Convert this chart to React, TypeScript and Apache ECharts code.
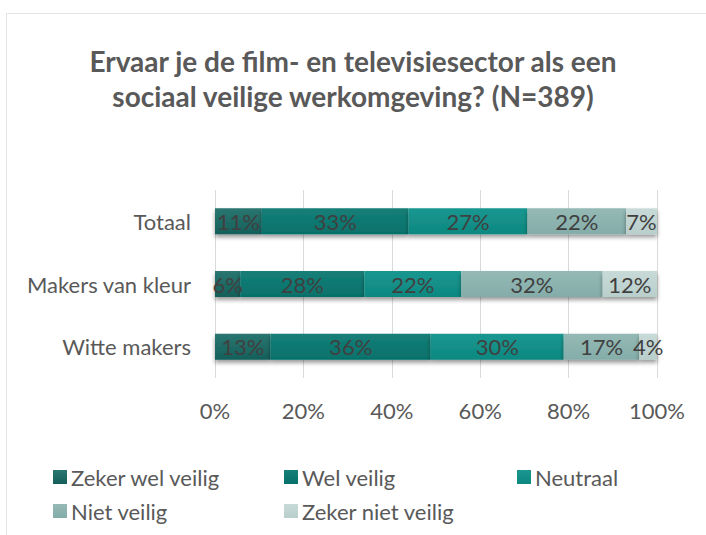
import React, { useEffect, useRef } from "react";
import * as echarts from "echarts";

const categories = ["Totaal", "Makers van kleur", "Witte makers"];
const seriesNames = ["Zeker wel veilig", "Wel veilig", "Neutraal", "Niet veilig", "Zeker niet veilig"];
const zekerWel = [10.6, 5.7, 12.6];
const wel = [33.2, 28.1, 36.2];
const neutraal = [26.9, 21.9, 30.1];
const niet = [22.3, 32.0, 17.1];
const zekerNiet = [7.0, 12.3, 4.0];
const xTicks = [0, 20, 40, 60, 80, 100];
const colors = [
  ["#2a7671", "#155f5a"],
  ["#167f78", "#05716a"],
  ["#1a9790", "#0c8880"],
  ["#95bab6", "#84aca8"],
  ["#c8dad7", "#b9cfcc"],
];

export default function App() {
  const ref = useRef<HTMLDivElement>(null);
  useEffect(() => {
    if (!ref.current) return;
    const chart = echarts.init(ref.current, null, { renderer: "svg" });
    const values = [zekerWel, wel, neutraal, niet, zekerNiet];
    const font = "Lato, 'Noto Sans', sans-serif";
    const grad = (c: string[]) =>
      new echarts.graphic.LinearGradient(0, 0, 0, 1, [
        { offset: 0, color: c[0] },
        { offset: 1, color: c[1] },
      ]);
    chart.setOption({
      animation: false,
      backgroundColor: "#ffffff",
      title: {
        text: "Ervaar je de film- en televisiesector als een\nsociaal veilige werkomgeving? (N=389)",
        left: "center",
        top: 38,
        textStyle: {
          fontFamily: font,
          fontWeight: "bold",
          fontSize: 28,
          lineHeight: 35,
          color: "#595959",
        },
      },
      graphic: [
        {
          type: "rect",
          shape: { x: 6.5, y: 13.5, width: 760, height: 600 },
          style: { fill: "none", stroke: "#e3e3e3", lineWidth: 1 },
          silent: true,
        },
      ],
      grid: { left: 215, right: 49, top: 190, bottom: 157, containLabel: false },
      xAxis: {
        type: "value",
        min: 0,
        max: 100,
        interval: 20,
        axisLabel: {
          formatter: (v: number) => (xTicks.includes(v) ? v + "%" : ""),
          fontFamily: font,
          fontSize: 22,
          color: "#595959",
          margin: 21,
        },
        splitLine: { show: true, lineStyle: { color: "#d9d9d9", width: 1 } },
        axisLine: { show: false },
        axisTick: { show: false },
      },
      yAxis: {
        type: "category",
        data: categories,
        inverse: true,
        axisLabel: {
          fontFamily: font,
          fontSize: 22,
          color: "#595959",
          margin: 24,
        },
        axisLine: { show: false },
        axisTick: { show: false },
      },
      legend: [
        { names: [0, 3] },
        { names: [1, 4] },
        { names: [2] },
      ].map((l, i) => ({
        data: l.names.map((n) => seriesNames[n]),
        orient: "vertical",
        left: [48, 279, 512][i],
        top: 461,
        itemGap: 12,
        itemWidth: 14,
        itemHeight: 14,
        icon: "rect",
        textStyle: { fontFamily: font, fontSize: 22, color: "#595959", padding: [0, 0, 0, -1] },
      })),
      series: seriesNames.map((name, i) => ({
        name,
        type: "bar",
        stack: "total",
        barWidth: 26,
        data: values[i],
        itemStyle: {
          color: grad(colors[i]),
          shadowColor: "rgba(0,0,0,0.4)",
          shadowBlur: 4,
          shadowOffsetY: 3,
        },
        label: {
          show: true,
          position: "inside",
          formatter: (p: any) => Math.round(p.value) + "%",
          fontFamily: font,
          fontSize: 22,
          color: "#404040",
        },
      })),
    });
    return () => chart.dispose();
  }, []);
  return (
    <div
      ref={ref}
      style={{ position: "absolute", left: 0, top: 0, width: 706, height: 535 }}
    />
  );
}
